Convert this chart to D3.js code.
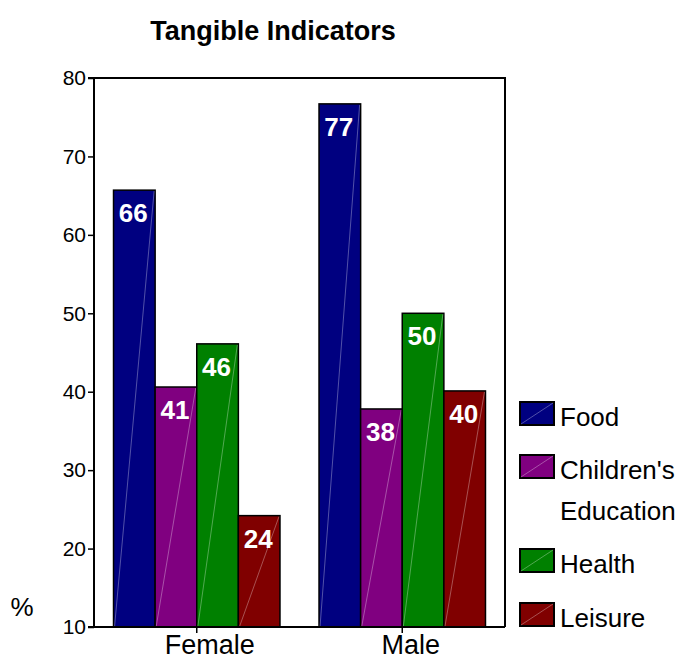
<!DOCTYPE html>
<html><head><meta charset="utf-8">
<script src="https://cdn.jsdelivr.net/npm/d3@7"></script>
<style>body{margin:0;background:#fff}text{font-family:"Liberation Sans",Arial,sans-serif}</style>
</head><body><svg id="c" width="681" height="660"></svg>
<script>
const groups = ["Female", "Male"];
const series = ["Food", "Children's Education", "Health", "Leisure"];
const legendLines = [["Food"], ["Children's", "Education"], ["Health"], ["Leisure"]];
const colors = ["#000080", "#800080", "#008000", "#800000"];
const femaleValues = [65.7, 40.6, 46.1, 24.2];
const maleValues = [76.7, 37.8, 50.0, 40.1];
const femaleLabels = ["66", "41", "46", "24"];
const maleLabels = ["77", "38", "50", "40"];
const yTicks = [10, 20, 30, 40, 50, 60, 70, 80];

const values = {Female: femaleValues, Male: maleValues};
const labels = {Female: femaleLabels, Male: maleLabels};

const svg = d3.select("#c");
const L = 94, R = 505, T = 78, B = 627;

const x0 = d3.scaleBand().domain(groups).range([L, R]).paddingInner(0.19).paddingOuter(0.095);
const x1 = d3.scaleBand().domain(series).range([0, x0.bandwidth()]);
const y = d3.scaleLinear().domain([10, 80]).range([B, T]);

svg.append("text").attr("x", 273).attr("y", 40).attr("text-anchor", "middle")
  .attr("font-size", 27).attr("font-weight", "bold").text("Tangible Indicators");

// bars
groups.forEach(g => {
  const gg = svg.append("g").attr("transform", `translate(${x0(g)},0)`);
  series.forEach((s, i) => {
    const v = values[g][i];
    const bx = x1(s), bw = x1.bandwidth(), by = y(v), bh = y(10) - y(v);
    gg.append("rect").attr("x", bx).attr("y", by).attr("width", bw).attr("height", bh)
      .attr("fill", colors[i]).attr("stroke", "#000").attr("stroke-width", 1.5);
    gg.append("line").attr("x1", bx + 1).attr("y1", y(10)).attr("x2", bx + bw - 1).attr("y2", by + 1)
      .attr("stroke", "rgba(255,255,255,0.4)").attr("stroke-width", 0.8);
    gg.append("text").attr("x", bx + bw / 2 - 1).attr("y", by + 32).attr("text-anchor", "middle")
      .attr("fill", "#fff").attr("font-size", 26).attr("font-weight", "bold").text(labels[g][i]);
  });
});

// frame
svg.append("path").attr("d", `M${L},${T}H${R}V${B}`).attr("fill", "none").attr("stroke", "#000").attr("stroke-width", 2);

const yAxis = svg.append("g").attr("transform", `translate(${L},0)`)
  .call(d3.axisLeft(y).tickValues(yTicks).tickSize(6).tickPadding(2));
const xAxis = svg.append("g").attr("transform", `translate(0,${B})`)
  .call(d3.axisBottom(x0).tickSize(6).tickPadding(7));
[yAxis, xAxis].forEach(a => {
  a.select(".domain").attr("stroke-width", 2);
  a.selectAll(".tick line").attr("stroke-width", 1.5);
  a.selectAll("text").attr("fill", "#000").attr("font-family", '"Liberation Sans",Arial,sans-serif');
});
yAxis.selectAll("text").attr("font-size", 21);
xAxis.selectAll("text").attr("font-size", 27).attr("dy", null).attr("y", 27)
  .attr("text-anchor", "start")
  .attr("x", function() { return -0.355 * this.getComputedTextLength(); });
yAxis.select(".domain").attr("d", `M-6,${B}H0V${T}H-6`);
xAxis.select(".domain").attr("d", `M${L},0H${R}`);

svg.append("text").attr("x", 22).attr("y", 616).attr("text-anchor", "middle").attr("font-size", 26).text("%");

// legend
const legY = [402, 455, 549, 603];
series.forEach((s, i) => {
  const lg = svg.append("g").attr("transform", `translate(520,${legY[i]})`);
  lg.append("rect").attr("width", 34).attr("height", 23).attr("fill", colors[i]).attr("stroke", "#000").attr("stroke-width", 2);
  lg.append("line").attr("x1", 1).attr("y1", 22).attr("x2", 33).attr("y2", 1)
    .attr("stroke", "rgba(255,255,255,0.4)").attr("stroke-width", 0.8);
  legendLines[i].forEach((t, j) => {
    lg.append("text").attr("x", 40).attr("y", 24 + j * 41).attr("font-size", 26).text(t);
  });
});
</script></body></html>
